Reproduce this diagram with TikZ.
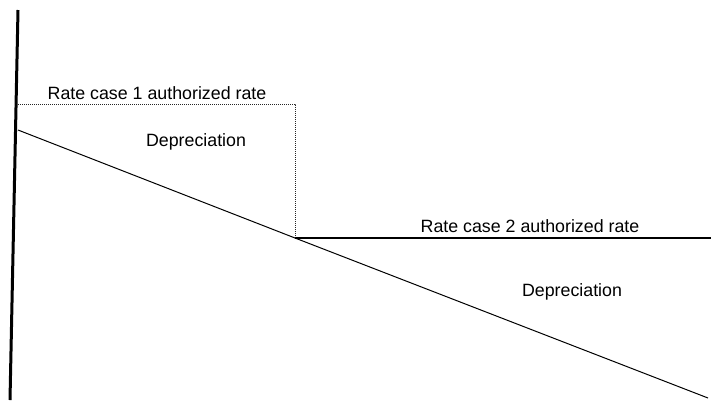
\documentclass[tikz,border=0pt]{standalone}
\usepackage{fontspec}
\setmainfont{Liberation Sans}
\usepackage{tikz}
\usetikzlibrary{positioning}

\begin{document}
\begin{tikzpicture}[x=1pt, y=-1pt,
  font=\fontsize{17.8}{20}\selectfont,
  axis/.style={line width=3pt},
  rateone/.style={densely dotted, line width=1pt, black!85},
  ratetwo/.style={line width=1.2pt},
  value/.style={line width=1pt},
  lbl/.style={inner sep=0pt, anchor=base}]
\useasboundingbox (0,0) rectangle (711,400);
% axis
\coordinate (top) at (18,10);
\coordinate (bot) at (10,400);
\draw[axis] (top) -- (bot);
% rate case corners
\coordinate (r1) at (18,104);
\coordinate (r1e) at (295,104);
\coordinate (mid) at (295,238);
\coordinate (r2e) at (711,238);
\coordinate (v0) at (18,130);
\coordinate (v1) at (708,398);
\draw[rateone] (r1) -- (r1e) -- (mid);
\draw[ratetwo] (mid) -- (r2e);
\draw[value] (v0) -- (mid) -- (v1);
% labels
\node[lbl] (case1) at (157,99) {Rate case 1 authorized rate};
\node[lbl] (dep1) at (196,146) {Depreciation};
\node[lbl] (case2) at (530,232) {Rate case 2 authorized rate};
\node[lbl] (dep2) at (572,296) {Depreciation};
\end{tikzpicture}
\end{document}
